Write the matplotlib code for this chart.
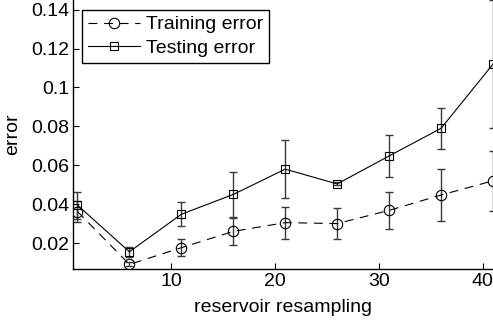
import matplotlib
matplotlib.use("Agg")
import matplotlib.pyplot as plt

# reservoir resampling steps
steps = [1, 6, 11, 16, 21, 26, 31, 36, 41]

train_err = [0.0362, 0.0090, 0.0176, 0.0260, 0.0305, 0.0300, 0.0368, 0.0447, 0.0520]
train_std = [0.0052, 0.0010, 0.0043, 0.0071, 0.0082, 0.0078, 0.0097, 0.0136, 0.0155]

test_err = [0.0395, 0.0155, 0.0348, 0.0450, 0.0580, 0.0504, 0.0648, 0.0790, 0.1120]
test_std = [0.0070, 0.0025, 0.0062, 0.0116, 0.0150, 0.0008, 0.0109, 0.0107, 0.0330]

plt.rcParams['font.family'] = ['Liberation Sans', 'DejaVu Sans']
fs = 14

fig = plt.figure(figsize=(4.93, 3.22), dpi=100)
ax = fig.add_axes([0.1487, 0.1637, 0.8513, 0.8363])

ebar = '#3a3a3a'
ax.errorbar(steps, train_err, yerr=train_std, fmt='none', ecolor=ebar,
            elinewidth=1.0, capsize=3, capthick=1.0)
ax.errorbar(steps, test_err, yerr=test_std, fmt='none', ecolor=ebar,
            elinewidth=1.0, capsize=3, capthick=1.0)

ax.plot(steps, train_err, color='k', lw=0.8, linestyle=(0, (8, 6)),
        marker='o', ms=7.5, mfc='none', mec='k', mew=0.8, label='Training error')
ax.plot(steps, test_err, color='k', lw=0.8, linestyle='-',
        marker='s', ms=6, mfc='none', mec='k', mew=0.8, label='Testing error')

ax.set_xlim(0.6, 41.0)
ax.set_ylim(0.0065, 0.145)
ax.set_xticks([10, 20, 30, 40])
ax.set_yticks([0.02, 0.04, 0.06, 0.08, 0.1, 0.12, 0.14])
ax.set_yticklabels(['0.02', '0.04', '0.06', '0.08', '0.1', '0.12', '0.14'])
ax.tick_params(direction='in', length=4, width=0.8, labelsize=fs, pad=3)

ax.spines['top'].set_visible(False)
ax.spines['right'].set_visible(False)
ax.spines['left'].set_linewidth(1.0)
ax.spines['bottom'].set_linewidth(1.0)

ax.set_xlabel('reservoir resampling', fontsize=fs, labelpad=6)
ax.set_ylabel('error', fontsize=fs, labelpad=7)

leg = ax.legend(loc='upper left', bbox_to_anchor=(0.021, 0.963), fontsize=fs,
                fancybox=False, framealpha=1, edgecolor='k', handlelength=2.7,
                borderpad=0.3, labelspacing=0.3, handletextpad=0.3, borderaxespad=0)
leg.get_frame().set_linewidth(1.0)

fig.savefig('out.png', dpi=100)
